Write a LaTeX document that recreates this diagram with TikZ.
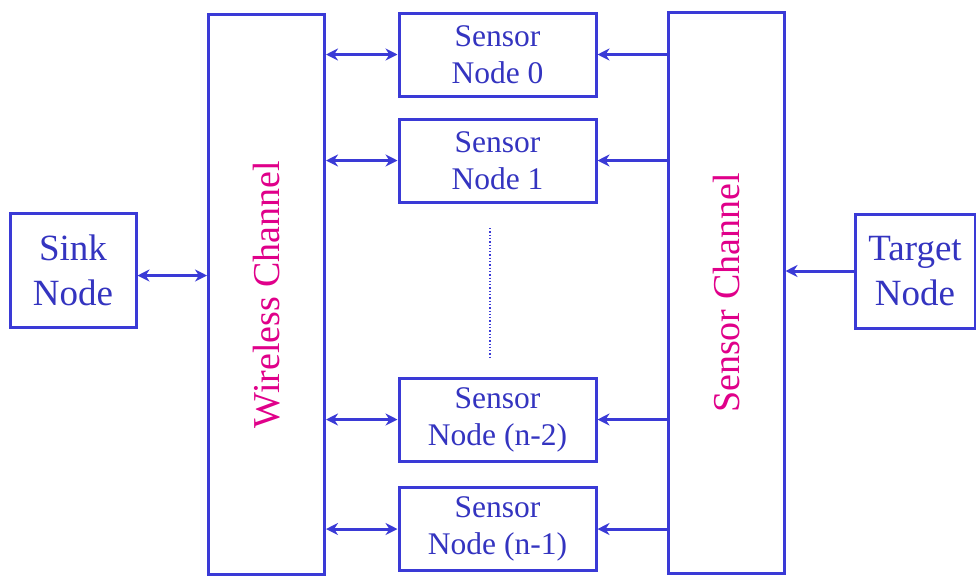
\documentclass[tikz,border=0pt]{standalone}
\usepackage{fontspec}
\setmainfont{Liberation Serif}
\definecolor{LineBlue}{HTML}{3A3AD6}
\definecolor{TextBlue}{HTML}{3434C0}
\definecolor{Magenta}{HTML}{E0008A}
\usetikzlibrary{arrows.meta,positioning,calc}

\begin{document}
\begin{tikzpicture}[
    x=1pt, y=-1pt,
    box/.style={rectangle, draw=LineBlue, line width=3pt, fill=white, align=center, inner sep=0pt, text=TextBlue},
    endnode/.style={box, minimum width=126pt, minimum height=114pt, font=\fontsize{37}{45}\selectfont},
    sensornode/.style={box, minimum width=197pt, minimum height=83pt, font=\fontsize{31.5}{37}\selectfont},
    channel/.style={box, minimum width=116pt},
    chlabel/.style={rotate=90, text=Magenta, font=\fontsize{38}{45}\selectfont},
    arrow/.style={-{Stealth[length=12pt,width=12pt]}, line width=3pt, LineBlue},
    biarrow/.style={{Stealth[length=12pt,width=12pt]}-{Stealth[length=12pt,width=12pt]}, line width=3pt, LineBlue},
]
    \useasboundingbox (0,0) rectangle (976,576);

    \node[endnode] (sink) at (73,270.5) {Sink\\Node};
    \node[channel, minimum height=560pt] (wireless) at (266.5,294.5) {};
    \node[chlabel] (wirelesslabel) at (wireless.center) {Wireless Channel};
    \node[channel, minimum height=561pt] (sensorch) at (726,293) {};
    \node[chlabel] (sensorchlabel) at (sensorch.center) {Sensor Channel};
    \node[endnode, minimum width=120pt] (target) at (915,271) {Target\\Node};

    \node[sensornode] (sn0) at (497.5,54.5) {Sensor\\Node 0};
    \node[sensornode] (sn1) at (497.5,160.5) {Sensor\\Node 1};
    \node[sensornode] (snm2) at (497.5,419.5) {Sensor\\Node (n-2)};
    \node[sensornode] (snm1) at (497.5,529) {Sensor\\Node (n-1)};

    \coordinate (dottop) at (490,228);
    \coordinate (dotbot) at (490,358);
    \draw[LineBlue, line width=1.3pt, dotted] (dottop) -- (dotbot);

    \coordinate (sinkout) at ($(sink.east)+(0,5)$);
    \draw[biarrow] (sinkout) -- (sinkout -| wireless.west);
    \draw[biarrow] (sn0.west -| wireless.east) -- (sn0.west);
    \draw[biarrow] (sn1.west -| wireless.east) -- (sn1.west);
    \draw[biarrow] (snm2.west -| wireless.east) -- (snm2.west);
    \draw[biarrow] (snm1.west -| wireless.east) -- (snm1.west);

    \draw[arrow] (sn0.east -| sensorch.west) -- (sn0.east);
    \draw[arrow] (sn1.east -| sensorch.west) -- (sn1.east);
    \draw[arrow] (snm2.east -| sensorch.west) -- (snm2.east);
    \draw[arrow] (snm1.east -| sensorch.west) -- (snm1.east);
    \draw[arrow] (target.west) -- (target.west -| sensorch.east);
\end{tikzpicture}
\end{document}
